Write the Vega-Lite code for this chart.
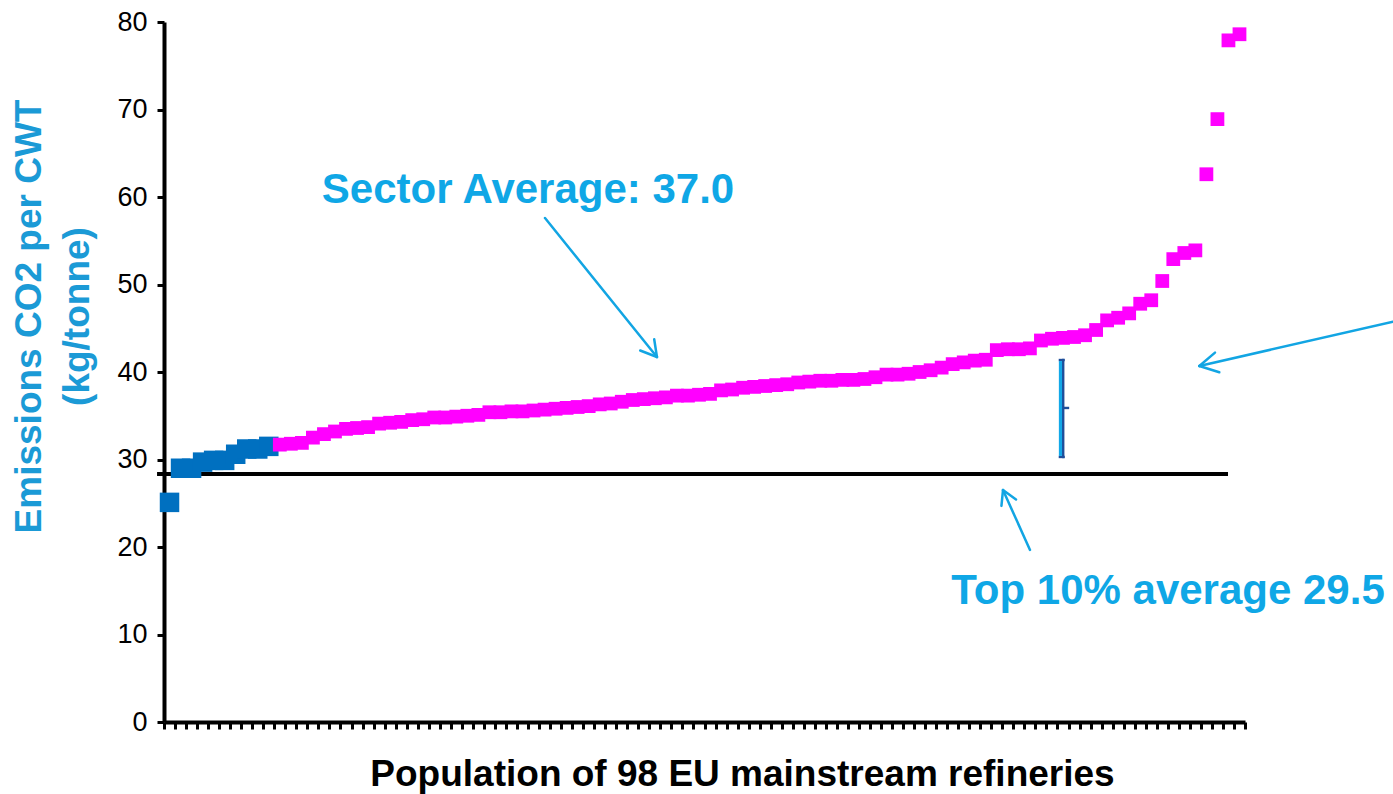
{
  "$schema": "https://vega.github.io/schema/vega-lite/v6.json",
  "autosize": {"type": "none"},
  "padding": {"left": 164, "top": 22, "right": 148, "bottom": 72},
  "width": 1081,
  "height": 700,
  "background": "white",
  "config": {"view": {"stroke": null}, "font": "Liberation Sans"},
  "datasets": {
    "refineries": [
      {"x": 1, "y": 25.1, "group": "top"}, {"x": 2, "y": 29.0, "group": "top"}, {"x": 3, "y": 29.0, "group": "top"},
      {"x": 4, "y": 29.7, "group": "top"}, {"x": 5, "y": 29.9, "group": "top"}, {"x": 6, "y": 29.9, "group": "top"},
      {"x": 7, "y": 30.6, "group": "top"}, {"x": 8, "y": 31.2, "group": "top"}, {"x": 9, "y": 31.2, "group": "top"},
      {"x": 10, "y": 31.5, "group": "top"},
      {"x": 11, "y": 31.7, "group": "rest"}, {"x": 12, "y": 31.8, "group": "rest"}, {"x": 13, "y": 31.9, "group": "rest"},
      {"x": 14, "y": 32.5, "group": "rest"}, {"x": 15, "y": 32.9, "group": "rest"}, {"x": 16, "y": 33.2, "group": "rest"},
      {"x": 17, "y": 33.5, "group": "rest"}, {"x": 18, "y": 33.6, "group": "rest"}, {"x": 19, "y": 33.7, "group": "rest"},
      {"x": 20, "y": 34.1, "group": "rest"}, {"x": 21, "y": 34.2, "group": "rest"}, {"x": 22, "y": 34.3, "group": "rest"},
      {"x": 23, "y": 34.5, "group": "rest"}, {"x": 24, "y": 34.6, "group": "rest"}, {"x": 25, "y": 34.8, "group": "rest"},
      {"x": 26, "y": 34.8, "group": "rest"}, {"x": 27, "y": 34.9, "group": "rest"}, {"x": 28, "y": 35.0, "group": "rest"},
      {"x": 29, "y": 35.1, "group": "rest"}, {"x": 30, "y": 35.4, "group": "rest"}, {"x": 31, "y": 35.4, "group": "rest"},
      {"x": 32, "y": 35.5, "group": "rest"}, {"x": 33, "y": 35.5, "group": "rest"}, {"x": 34, "y": 35.6, "group": "rest"},
      {"x": 35, "y": 35.7, "group": "rest"}, {"x": 36, "y": 35.8, "group": "rest"}, {"x": 37, "y": 35.9, "group": "rest"},
      {"x": 38, "y": 36.0, "group": "rest"}, {"x": 39, "y": 36.1, "group": "rest"}, {"x": 40, "y": 36.3, "group": "rest"},
      {"x": 41, "y": 36.4, "group": "rest"}, {"x": 42, "y": 36.6, "group": "rest"}, {"x": 43, "y": 36.8, "group": "rest"},
      {"x": 44, "y": 36.9, "group": "rest"}, {"x": 45, "y": 37.0, "group": "rest"}, {"x": 46, "y": 37.1, "group": "rest"},
      {"x": 47, "y": 37.3, "group": "rest"}, {"x": 48, "y": 37.3, "group": "rest"}, {"x": 49, "y": 37.4, "group": "rest"},
      {"x": 50, "y": 37.5, "group": "rest"}, {"x": 51, "y": 37.9, "group": "rest"}, {"x": 52, "y": 38.0, "group": "rest"},
      {"x": 53, "y": 38.2, "group": "rest"}, {"x": 54, "y": 38.3, "group": "rest"}, {"x": 55, "y": 38.4, "group": "rest"},
      {"x": 56, "y": 38.5, "group": "rest"}, {"x": 57, "y": 38.6, "group": "rest"}, {"x": 58, "y": 38.8, "group": "rest"},
      {"x": 59, "y": 38.9, "group": "rest"}, {"x": 60, "y": 39.0, "group": "rest"}, {"x": 61, "y": 39.0, "group": "rest"},
      {"x": 62, "y": 39.1, "group": "rest"}, {"x": 63, "y": 39.1, "group": "rest"}, {"x": 64, "y": 39.2, "group": "rest"},
      {"x": 65, "y": 39.4, "group": "rest"}, {"x": 66, "y": 39.7, "group": "rest"}, {"x": 67, "y": 39.7, "group": "rest"},
      {"x": 68, "y": 39.8, "group": "rest"}, {"x": 69, "y": 40.0, "group": "rest"}, {"x": 70, "y": 40.2, "group": "rest"},
      {"x": 71, "y": 40.5, "group": "rest"}, {"x": 72, "y": 40.9, "group": "rest"}, {"x": 73, "y": 41.1, "group": "rest"},
      {"x": 74, "y": 41.3, "group": "rest"}, {"x": 75, "y": 41.4, "group": "rest"}, {"x": 76, "y": 42.5, "group": "rest"},
      {"x": 77, "y": 42.6, "group": "rest"}, {"x": 78, "y": 42.6, "group": "rest"}, {"x": 79, "y": 42.7, "group": "rest"},
      {"x": 80, "y": 43.6, "group": "rest"}, {"x": 81, "y": 43.8, "group": "rest"}, {"x": 82, "y": 43.9, "group": "rest"},
      {"x": 83, "y": 44.0, "group": "rest"}, {"x": 84, "y": 44.2, "group": "rest"}, {"x": 85, "y": 44.8, "group": "rest"},
      {"x": 86, "y": 45.9, "group": "rest"}, {"x": 87, "y": 46.2, "group": "rest"}, {"x": 88, "y": 46.7, "group": "rest"},
      {"x": 89, "y": 47.8, "group": "rest"}, {"x": 90, "y": 48.2, "group": "rest"}, {"x": 91, "y": 50.4, "group": "rest"},
      {"x": 92, "y": 52.9, "group": "rest"}, {"x": 93, "y": 53.6, "group": "rest"}, {"x": 94, "y": 53.9, "group": "rest"},
      {"x": 95, "y": 62.6, "group": "rest"}, {"x": 96, "y": 68.9, "group": "rest"}, {"x": 97, "y": 77.9, "group": "rest"},
      {"x": 98, "y": 78.6, "group": "rest"}
    ],
    "benchmark": [{"x": -0.13, "x2": 96.96, "y": 28.34}],
    "arrows": [
      {"x": 35.04, "y": 57.6, "x2": 45.19, "y2": 41.71},
      {"x": 44.94, "y": 43.75, "x2": 45.19, "y2": 41.71},
      {"x": 43.67, "y": 42.46, "x2": 45.19, "y2": 41.71},
      {"x": 79.01, "y": 19.66, "x2": 76.56, "y2": 26.51},
      {"x": 76.42, "y": 24.7, "x2": 76.56, "y2": 26.51},
      {"x": 77.74, "y": 25.44, "x2": 76.56, "y2": 26.51},
      {"x": 111.92, "y": 45.75, "x2": 94.36, "y2": 40.69},
      {"x": 95.78, "y": 42.21, "x2": 94.36, "y2": 40.69},
      {"x": 96.17, "y": 39.97, "x2": 94.36, "y2": 40.69}
    ],
    "barOutline": [
      {"x": 82.02, "y": 41.37, "x2": 82.02, "y2": 30.29},
      {"x": 82.09, "y": 35.89, "x2": 82.45, "y2": 35.89},
      {"x": 81.72, "y": 41.37, "x2": 82.05, "y2": 41.37},
      {"x": 81.72, "y": 30.29, "x2": 82.05, "y2": 30.29}
    ],
    "barFill": [{"x": 81.77, "y": 41.25, "x2": 81.77, "y2": 30.41}],
    "labels": [
      {"x": 33.5, "y": 59.31, "label": "Sector Average: 37.0"},
      {"x": 91.52, "y": 13.49, "label": "Top 10% average 29.5"}
    ]
  },
  "encoding": {
    "x": {
      "field": "x", "type": "quantitative",
      "scale": {"domain": [0.5, 98.5], "nice": false, "zero": false},
      "axis": {
        "values": [0.5,1.5,2.5,3.5,4.5,5.5,6.5,7.5,8.5,9.5,10.5,11.5,12.5,13.5,14.5,15.5,16.5,17.5,18.5,19.5,20.5,21.5,22.5,23.5,24.5,25.5,26.5,27.5,28.5,29.5,30.5,31.5,32.5,33.5,34.5,35.5,36.5,37.5,38.5,39.5,40.5,41.5,42.5,43.5,44.5,45.5,46.5,47.5,48.5,49.5,50.5,51.5,52.5,53.5,54.5,55.5,56.5,57.5,58.5,59.5,60.5,61.5,62.5,63.5,64.5,65.5,66.5,67.5,68.5,69.5,70.5,71.5,72.5,73.5,74.5,75.5,76.5,77.5,78.5,79.5,80.5,81.5,82.5,83.5,84.5,85.5,86.5,87.5,88.5,89.5,90.5,91.5,92.5,93.5,94.5,95.5,96.5,97.5,98.5],
        "labels": false, "grid": false,
        "domainColor": "black", "domainWidth": 4,
        "tickColor": "black", "tickWidth": 3, "tickSize": 7,
        "title": "Population of 98 EU mainstream refineries",
        "titleFont": "Liberation Sans", "titleFontSize": 37, "titleFontWeight": "bold", "titleColor": "black",
        "titleX": 578, "titleY": 63, "titleAlign": "center", "titleBaseline": "alphabetic"
      }
    },
    "y": {
      "field": "y", "type": "quantitative",
      "scale": {"domain": [0, 80], "nice": false},
      "axis": {
        "values": [0, 10, 20, 30, 40, 50, 60, 70, 80],
        "grid": false,
        "domainColor": "black", "domainWidth": 4,
        "tickColor": "black", "tickWidth": 3, "tickSize": 7,
        "labelFont": "Liberation Sans", "labelFontSize": 27, "labelColor": "black", "labelPadding": 10,
        "title": ["Emissions CO2 per CWT", "(kg/tonne)"],
        "titleFont": "Liberation Sans", "titleFontSize": 37, "titleFontWeight": "bold", "titleColor": "#1B9AD6",
        "titleX": -124, "titleY": 294, "titleAngle": 270, "titleAlign": "center", "titleBaseline": "alphabetic",
        "titleLineHeight": 48
      }
    }
  },
  "layer": [
    {
      "data": {"name": "benchmark"},
      "mark": {"type": "rule", "color": "black", "strokeWidth": 4},
      "encoding": {"x2": {"field": "x2"}}
    },
    {
      "data": {"name": "refineries"},
      "mark": {"type": "point", "shape": "square", "filled": true, "opacity": 1, "strokeWidth": 0},
      "encoding": {
        "color": {"field": "group", "type": "nominal", "scale": {"domain": ["top", "rest"], "range": ["#0070C0", "#FF00FF"]}, "legend": null},
        "size": {"field": "group", "type": "ordinal", "scale": {"domain": ["top", "rest"], "range": [380, 190]}, "legend": null}
      }
    },
    {
      "data": {"name": "arrows"},
      "mark": {"type": "rule", "color": "#12A5E3", "strokeWidth": 2.5, "strokeCap": "round"},
      "encoding": {"x2": {"field": "x2"}, "y2": {"field": "y2"}}
    },
    {
      "data": {"name": "barOutline"},
      "mark": {"type": "rule", "color": "#1F4E9A", "strokeWidth": 2.4, "strokeCap": "square"},
      "encoding": {"x2": {"field": "x2"}, "y2": {"field": "y2"}}
    },
    {
      "data": {"name": "barFill"},
      "mark": {"type": "rule", "color": "#12A8E8", "strokeWidth": 3.2},
      "encoding": {"x2": {"field": "x2"}, "y2": {"field": "y2"}}
    },
    {
      "data": {"name": "labels"},
      "mark": {"type": "text", "font": "Liberation Sans", "fontSize": 42, "fontWeight": "bold", "color": "#0FA7E6", "align": "center", "baseline": "alphabetic"},
      "encoding": {"text": {"field": "label"}}
    }
  ]
}
